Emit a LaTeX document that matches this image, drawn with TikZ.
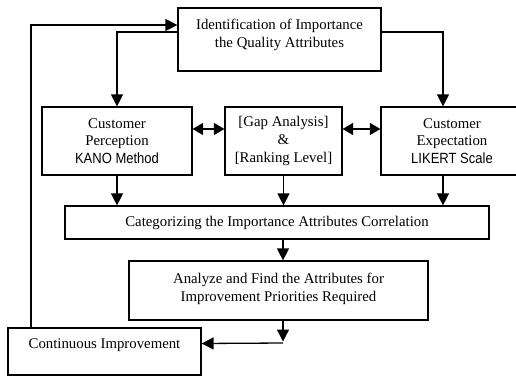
\documentclass[tikz,border=0pt]{standalone}
\usepackage{fontspec}
\setmainfont{Liberation Serif}
\newfontfamily\arialn[FakeStretch=0.88]{Liberation Sans}
\usetikzlibrary{arrows.meta}
\begin{document}
\begin{tikzpicture}[x=1pt,y=-1pt,
  box/.style={draw, line width=1.2pt, inner sep=0pt, align=center},
  lbl/.style={inner sep=0pt, align=center},
  arr/.style={line width=1.3pt, -{Triangle[length=12pt,width=12pt]}},
  dbl/.style={line width=1.3pt, {Triangle[length=10.5pt,width=12pt]}-{Triangle[length=10.5pt,width=12pt]}},
  font=\fontsize{14.8}{17.8}\selectfont]
\clip (0,0) rectangle (516,375);
\useasboundingbox (0,0) rectangle (516,375);
% boxes
\node[box, minimum width=203pt, minimum height=63pt] (top) at (279.5,39.5) {};
\node[lbl] (ttop) at (279.5,34.5) {Identification of Importance\\the Quality Attributes};
\node[box, minimum width=150pt, minimum height=68pt] (cp) at (117,141)
  {Customer\\Perception\\{\arialn KANO Method}};
\node[box, minimum width=117pt, minimum height=68pt] (gap) at (283.5,141)
  {[Gap Analysis]\\\&\\{}[Ranking Level]};
\node[box, minimum width=142pt, minimum height=68pt] (ce) at (452,141)
  {Customer\\Expectation\\{\arialn LIKERT Scale}};
\node[box, minimum width=424pt, minimum height=33pt] (cat) at (277,222.5)
  {Categorizing the Importance Attributes Correlation};
\node[box, minimum width=299pt, minimum height=59pt] (ana) at (278.5,290.5) {};
\node[lbl] (tana) at (278.5,288.5) {Analyze and Find the Attributes for\\Improvement Priorities Required};
\node[box, minimum width=193pt, minimum height=47pt] (ci) at (104.5,351.5) {};
\node[lbl] (tci) at (104.5,345.5) {Continuous Improvement};
\coordinate (j) at (283,343);
% connectors
\draw[arr] ([yshift=7.5pt]top.west) -| (cp.north);
\draw[arr] ([yshift=7.5pt]top.east) -| ([xshift=-9pt]ce.north);
\draw[dbl] ([yshift=12pt]cp.east) -- ([yshift=12pt]gap.west);
\draw[dbl] ([yshift=12pt]gap.east) -- ([yshift=12pt]ce.west);
\draw[arr] (cp.south) -- (cp.south |- cat.north);
\draw[arr] (gap.south) -- (gap.south |- cat.north);
\draw[arr] ([xshift=-9pt]ce.south) -- ([xshift=-9pt]ce.south |- cat.north);
\draw[arr] (j |- cat.south) -- (j |- ana.north);
\draw[arr] (j |- ana.south) -- ([yshift=1.5pt]j);
\draw[arr] (j) -- ([yshift=8pt]ci.east);
\draw[arr] ([xshift=-73.5pt]ci.north) |- ([yshift=14.5pt]top.west);
\end{tikzpicture}
\end{document}
